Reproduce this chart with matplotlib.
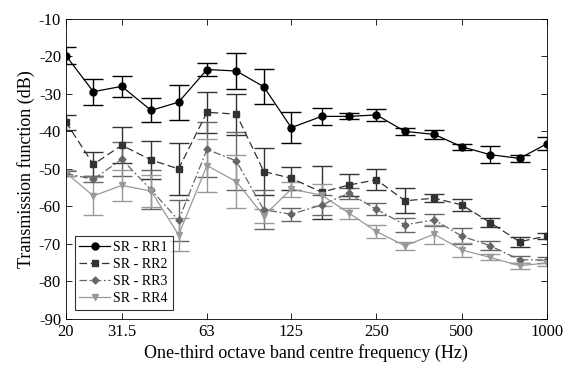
import numpy as np
import matplotlib
matplotlib.use('Agg')
import matplotlib.pyplot as plt
from matplotlib.ticker import FixedLocator, NullLocator
from matplotlib.lines import Line2D

plt.rcParams['font.family'] = ['Liberation Serif', 'DejaVu Serif']
plt.rcParams['axes.unicode_minus'] = False

# one-third octave band centre frequencies (Hz)
freq = [20, 25, 31.5, 40, 50, 63, 80, 100, 125, 160, 200, 250, 315, 400, 500, 630, 800, 1000]

rr1 = [-19.8, -29.4, -28.0, -34.4, -32.2, -23.5, -23.9, -28.1, -39.0, -36.0, -36.0, -35.6,
       -40.0, -40.8, -44.1, -46.2, -47.2, -43.3]
rr1_err = [2.3, 3.5, 2.8, 3.2, 4.7, 1.7, 4.7, 4.7, 4.2, 2.2, 0.8, 1.6, 0.9, 1.2, 0.8, 2.2, 1.0, 1.7]

rr2 = [-37.5, -48.8, -43.7, -47.6, -50.0, -34.9, -35.4, -50.7, -52.5, -56.2, -54.3, -52.9,
       -58.5, -57.8, -59.6, -64.3, -69.4, -67.9]
rr2_err = [2.0, 3.2, 4.8, 5.0, 7.0, 5.5, 5.5, 6.3, 3.0, 7.1, 3.0, 2.8, 3.3, 1.0, 1.7, 1.2, 1.3, 0.8]

rr3 = [-51.2, -52.8, -47.4, -55.6, -63.7, -44.8, -47.9, -60.9, -62.1, -59.6, -56.5, -60.8,
       -64.9, -63.6, -67.9, -70.5, -74.2, -74.3]
rr3_err = [0.6, 0.8, 4.5, 5.2, 5.4, 7.4, 7.7, 5.2, 1.7, 2.7, 1.5, 1.6, 1.8, 1.5, 2.1, 1.2, 1.0, 0.8]

rr4 = [-51.0, -57.2, -54.4, -55.9, -67.6, -49.1, -53.4, -62.5, -55.4, -57.0, -61.8, -66.7,
       -70.5, -67.4, -71.6, -73.6, -75.8, -75.1]
rr4_err = [0.8, 5.0, 4.2, 4.2, 4.4, 7.0, 7.0, 1.8, 2.0, 3.0, 1.5, 1.7, 1.0, 2.5, 1.8, 0.8, 0.8, 0.8]

xticks = [20, 31.5, 63, 125, 250, 500, 1000]
xticklabels = ['20', '31.5', '63', '125', '250', '500', '1000']

fig = plt.figure(figsize=(5.68, 3.70), dpi=100)
ax = fig.add_axes([0.116, 0.138, 0.847, 0.811])

series = [
    (rr1, rr1_err, 'SR - RR1', 'black', 'o', '-', 5),
    (rr2, rr2_err, 'SR - RR2', '#333333', 's', (0, (6, 3)), 4),
    (rr3, rr3_err, 'SR - RR3', '#666666', 'D', (0, (6, 2, 1.5, 2)), 3.5),
    (rr4, rr4_err, 'SR - RR4', '#999999', 'v', '-', 5),
]
handles = []
for vals, err, lab, col, mk, ls, ms in series:
    ax.errorbar(freq, vals, yerr=err, color=col, marker=mk, markersize=ms,
                linestyle=ls, linewidth=0.9, elinewidth=1.0, capsize=7,
                capthick=1.0)
    handles.append(Line2D([], [], color=col, marker=mk, markersize=ms,
                          linestyle=ls, linewidth=0.9, label=lab))

ax.set_xscale('log')
ax.set_xlim(20, 1000)
ax.set_ylim(-90, -10)
ax.xaxis.set_major_locator(FixedLocator(xticks))
ax.xaxis.set_minor_locator(NullLocator())
ax.set_xticklabels(xticklabels)
ax.set_yticks(np.arange(-90, -9, 10))
ax.tick_params(direction='in', top=True, right=True, labelsize=12, length=4, width=0.6)
for s in ax.spines.values():
    s.set_linewidth(0.6)

ax.set_xlabel('One-third octave band centre frequency (Hz)', fontsize=13, labelpad=3)
ax.set_ylabel('Transmission function (dB)', fontsize=13, labelpad=3)

leg = ax.legend(handles=handles, loc='lower left', fontsize=10, frameon=True,
                fancybox=False, edgecolor='black', borderpad=0.35, handlelength=2.2,
                handletextpad=0.25, labelspacing=0.3, borderaxespad=0,
                bbox_to_anchor=(0.018, 0.03))
leg.get_frame().set_linewidth(0.8)

fig.savefig('out.png', dpi=100)
